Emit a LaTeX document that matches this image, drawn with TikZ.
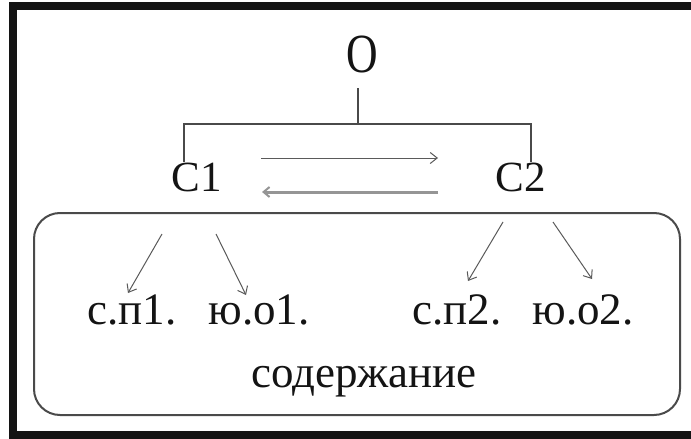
\documentclass[tikz,border=0pt]{standalone}
\usepackage{fontspec}
\usepackage{graphicx}
\setmainfont{Liberation Serif}
\usetikzlibrary{arrows.meta}
\definecolor{ink}{HTML}{141414}
\definecolor{lineg}{HTML}{4A4A4A}
\definecolor{arrg}{HTML}{5A5A5A}
\definecolor{lightg}{HTML}{959595}
\tikzset{
  lbl/.style={anchor=base, inner sep=0pt, text=ink, font=\fontsize{43}{50}\selectfont},
  sub/.style={anchor=base, inner sep=0pt, text=ink, font=\fontsize{45}{52}\selectfont},
  brk/.style={draw=lineg, line width=2pt},
  thinarr/.style={draw=arrg, line width=1pt, -{Straight Barb[length=7pt,width=11pt,line width=1pt]}},
  thickarr/.style={draw=lightg, line width=3pt, -{Straight Barb[length=6pt,width=10pt,line width=2pt]}},
  frameline/.style={draw=ink, line width=8pt},
  boxline/.style={draw=lineg, line width=2pt, rounded corners=26pt}
}
\begin{document}
\begin{tikzpicture}[x=1pt,y=-1pt]
\useasboundingbox (0,0) rectangle (691,439);
\clip (0,0) rectangle (691,439);
\fill[white] (0,0) rectangle (691,439);
% outer frame
\draw[frameline] (13,6) rectangle (710,435);
% rounded content box
\draw[boxline] (34,213) rectangle (680,415);
% nodes
\node[lbl] (O) at (362,72) {\scalebox{0.95}[1.2]{\fontsize{46}{52}\selectfont О}};
\node[lbl] (C1) at (197,191) {С1};
\node[lbl] (C2) at (521,191) {С2};
\node[sub] (sp1) at (132,324) {с.п1.};
\node[sub] (yo1) at (259,324) {ю.о1.};
\node[sub] (sp2) at (457,324) {с.п2.};
\node[sub] (yo2) at (583,324) {ю.о2.};
\node[sub] (sod) at (364,387) {содержание};
% bracket
\coordinate (stemtop) at (358,88);
\coordinate (stemjoin) at (358,124);
\coordinate (bl) at (184,124);
\coordinate (br) at (531,124);
\coordinate (blend) at (184,162);
\coordinate (brend) at (531,162);
\draw[brk] (stemtop) -- (stemjoin);
\draw[brk] (blend) -- (bl) -- (br) -- (brend);
% exchange arrows
\coordinate (a1s) at (261,158);
\coordinate (a1e) at (438,158);
\coordinate (a2s) at (438,192);
\coordinate (a2e) at (262,192);
\draw[thinarr] (a1s) -- (a1e);
\draw[thickarr] (a2s) -- (a2e);
% arrows to sub-items
\coordinate (d1s) at (162,234);
\coordinate (d1e) at (128,293);
\coordinate (d2s) at (216,234);
\coordinate (d2e) at (246,295);
\coordinate (d3s) at (503,222);
\coordinate (d3e) at (468,281);
\coordinate (d4s) at (553,222);
\coordinate (d4e) at (592,279);
\draw[thinarr] (d1s) -- (d1e);
\draw[thinarr] (d2s) -- (d2e);
\draw[thinarr] (d3s) -- (d3e);
\draw[thinarr] (d4s) -- (d4e);
\end{tikzpicture}
\end{document}
